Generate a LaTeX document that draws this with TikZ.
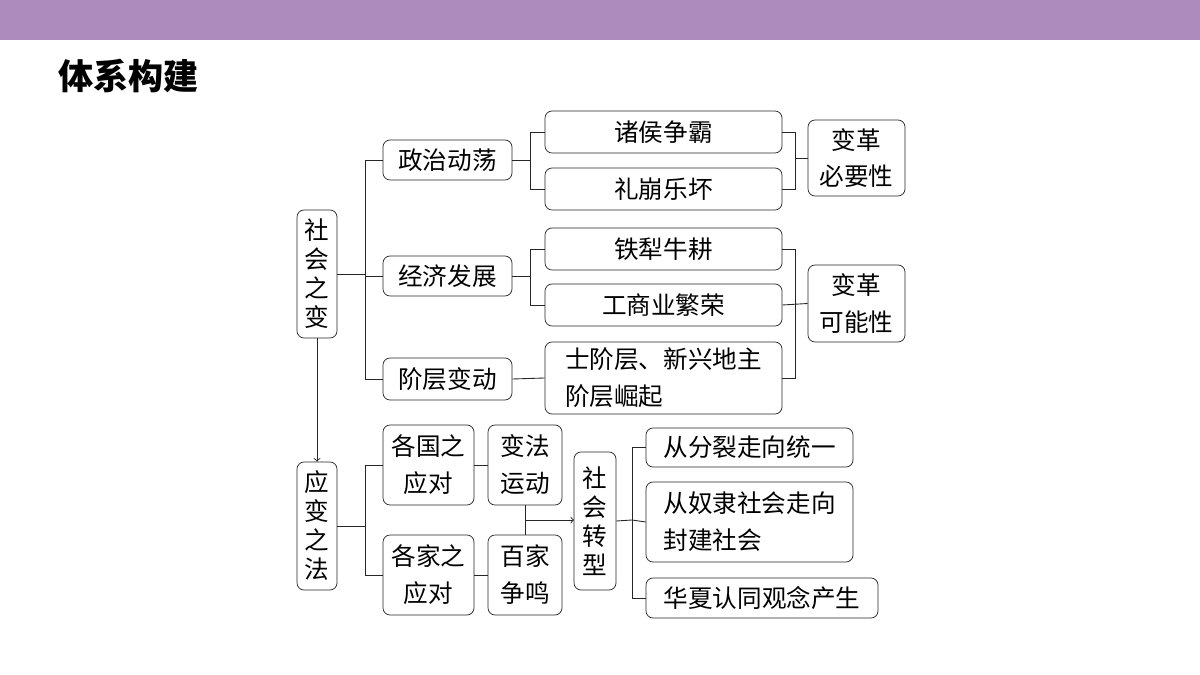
\documentclass[tikz,border=0pt]{standalone}
\usepackage{fontspec}
\setmainfont{Noto Sans CJK SC}
\usetikzlibrary{positioning}
\definecolor{bar}{HTML}{AD8BBD}
\tikzset{
  box/.style={draw=black!85, rounded corners=4pt, inner sep=0pt, align=center,
    font=\fontsize{14}{21}\selectfont},
  vert/.style={font=\fontsize{14}{16.5}\selectfont},
  line/.style={draw=black!85, line width=0.5pt},
}
\newcommand{\bx}[7][]{% extra, name, x1, y1, x2, y2, text
  \node[box, #1, minimum width={(#5-#3)*0.02cm}, minimum height={(#6-#4)*0.02cm}]
    (#2) at ({(#3+#5)/2},{(#4+#6)/2}) {#7};}
\begin{document}
\begin{tikzpicture}[x=0.02cm, y=-0.02cm]
  \useasboundingbox (0,0) rectangle (1200,675);
  \fill[bar] (0,0) rectangle (1200,40);
  \node[anchor=west, font=\fontsize{20}{22}\bfseries\selectfont] (title) at (52,76) {体系构建};

  % left column
  \bx[vert]{shzb}{297}{210}{337}{338}{社\\会\\之\\变}
  \bx[vert]{ybzf}{297}{462}{337}{590}{应\\变\\之\\法}
  \draw[line, ->] (shzb) -- (ybzf);

  % middle
  \bx{zzdd}{383}{140}{512}{180}{政治动荡}
  \bx{jjfz}{383}{256}{512}{296}{经济发展}
  \bx{jcbd}{383}{358}{512}{400}{阶层变动}
  \bx{zhzb}{545}{111}{782}{153}{诸侯争霸}
  \bx{lbly}{545}{168}{782}{210}{礼崩乐坏}
  \bx{tlng}{545}{228}{782}{270}{铁犁牛耕}
  \bx{gsyf}{545}{284}{782}{326}{工商业繁荣}
  \bx[align=left]{sjc}{545}{342}{782}{414}{士阶层、新兴地主\\阶层崛起}
  \bx{bgby}{808}{120}{905}{196}{变革\\必要性}
  \bx{bgkn}{808}{265}{905}{342}{变革\\可能性}

  % lower part
  \bx{ggzd}{383}{425}{474}{505}{各国之\\应对}
  \bx{gjzd}{383}{535}{474}{615}{各家之\\应对}
  \bx{bfyd}{488}{425}{562}{505}{变法\\运动}
  \bx{bjzm}{488}{535}{562}{615}{百家\\争鸣}
  \bx[vert]{shzx}{574}{452}{616}{590}{社\\会\\转\\型}
  \bx{cflt}{646}{428}{853}{467}{从分裂走向统一}
  \bx[align=left]{cnls}{646}{482}{853}{562}{从奴隶社会走向\\封建社会}
  \bx{hxrt}{646}{578}{878}{618}{华夏认同观念产生}

  % brackets
  \draw[line] (shzb.east) -- (365,274);
  \draw[line] (zzdd.west) -| (365,379) -- (jcbd.west);
  \draw[line] (jjfz.west) -- (365,276);
  \draw[line] (zzdd.east) -- (530,160);
  \draw[line] (zhzb.west) -| (530,189) -- (lbly.west);
  \draw[line] (jjfz.east) -- (530,276);
  \draw[line] (tlng.west) -| (530,305) -- (gsyf.west);
  \draw[line] (jcbd.east) -- (sjc.west);
  \draw[line] (zhzb.east) -| (795,189) -- (lbly.east);
  \draw[line] (795,158) -- (bgby.west);
  \draw[line] (tlng.east) -| (795,378) -- (sjc.east);
  \draw[line] (gsyf.east) -- (bgkn.west);

  \draw[line] (ybzf.east) -- (365,526);
  \draw[line] (ggzd.west) -| (365,575) -- (gjzd.west);
  \draw[line] (ggzd.east) -- (bfyd.west);
  \draw[line] (gjzd.east) -- (bjzm.west);
  \draw[line] (bfyd.south) -- (bjzm.north);
  \draw[line, ->] (525,520) -- (574,520) coordinate (zxin);
  \draw[line] (shzx.east) -- (632,520);
  \draw[line] (cflt.west) -| (632,598) -- (hxrt.west);
  \draw[line] (632,520) -- (cnls.west);
\end{tikzpicture}
\end{document}
